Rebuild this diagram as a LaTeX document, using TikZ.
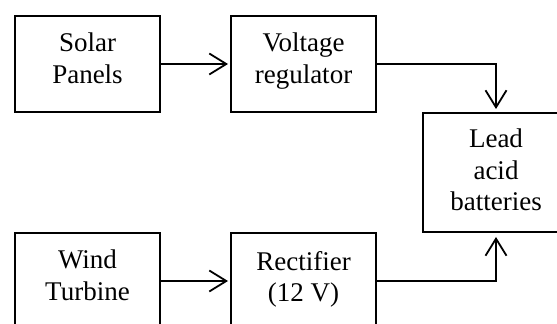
\documentclass[tikz,border=0pt]{standalone}
\usepackage{fontspec}
\setmainfont{Liberation Serif}
\usetikzlibrary{arrows.meta}
\tikzset{
  box/.style={draw=black, line width=1.3pt, rectangle, minimum width=145pt, inner sep=0pt, outer sep=0pt},
  lbl/.style={anchor=north, align=center, inner sep=0pt, font=\fontsize{27}{31.5}\selectfont},
  arr/.style={line width=1.8pt, -{Straight Barb[length=17pt, width=21pt, line width=1.8pt]}},
}
\begin{document}
\begin{tikzpicture}[x=1pt,y=1pt]
\useasboundingbox (0,0) rectangle (557,324);
\clip (0,0) rectangle (557,324);
\node[box, minimum height=96pt] (solar) at (87.5,260) {};
\node[box, minimum height=96pt] (volt) at (303.5,260) {};
\node[box, minimum width=146pt, minimum height=119pt] (lead) at (496,151.5) {};
\node[box, minimum height=96pt] (wind) at (87.5,43) {};
\node[box, minimum height=96pt] (rect) at (303.5,43) {};
\node[lbl] (solart) at ([yshift=-17pt]solar.north) {Solar\\Panels};
\node[lbl] (voltt) at ([yshift=-17pt]volt.north) {Voltage\\regulator};
\node[lbl] (leadt) at ([yshift=-16pt]lead.north) {Lead\\acid\\batteries};
\node[lbl] (windt) at ([yshift=-17pt]wind.north) {Wind\\Turbine};
\node[lbl] (rectt) at ([yshift=-18pt]rect.north) {Rectifier\\(12 V)};
\draw[arr, shorten >=3pt] (solar.east) -- (volt.west);
\draw[arr, shorten >=3pt] (wind.east) -- (rect.west);
\draw[arr, shorten >=4pt] (volt.east) -| (lead.north);
\draw[arr, shorten >=5pt] (rect.east) -| (lead.south);
\end{tikzpicture}
\end{document}
